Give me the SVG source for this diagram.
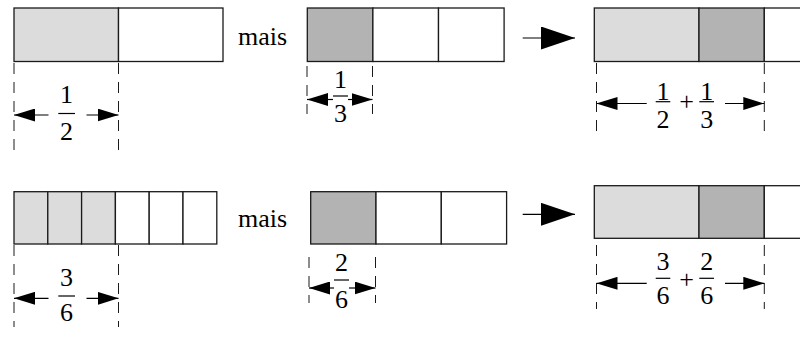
<svg xmlns="http://www.w3.org/2000/svg" width="800" height="338" viewBox="0 0 800 338" font-family="Liberation Serif, Times New Roman, serif" font-size="26">
  <style>
    .cell { stroke: #1a1a1a; stroke-width: 1.3; }
    .light { fill: #dcdcdc; }
    .dark { fill: #b3b3b3; }
    .empty { fill: #ffffff; }
    .guide { stroke: #1a1a1a; stroke-width: 1; stroke-dasharray: 11 8; fill: none; }
    .dim { stroke: #000; stroke-width: 1.2; fill: none; }
    .bar { stroke: #000; stroke-width: 1.2; }
    .head { fill: #000; }
    .t { font-family: "Liberation Serif", "Times New Roman", serif; font-size: 26px; fill: #000; }
    .num { text-anchor: middle; }
  </style>
  <defs>
    <marker id="tip" markerUnits="userSpaceOnUse" viewBox="0 0 21 13" refX="21" refY="6.5" markerWidth="21" markerHeight="13" orient="auto-start-reverse">
      <path class="head" d="M0,0 L21,6.5 L0,13 Z"/>
    </marker>
    <marker id="bigtip" markerUnits="userSpaceOnUse" viewBox="0 0 34 23" refX="34" refY="11.5" markerWidth="34" markerHeight="23" orient="auto">
      <path class="head" d="M0,0 L34,11.5 L0,23 Z"/>
    </marker>
  </defs>

  <!-- top row: 1/2 -->
  <g id="half">
    <rect class="cell light" x="14" y="8" width="104.5" height="53.5"/>
    <rect class="cell empty" x="118.5" y="8" width="104.5" height="53.5"/>
  </g>
  <text class="t" x="238" y="45">mais</text>
  <!-- top row: 1/3 -->
  <g id="third">
    <rect class="cell dark" x="307.3" y="8" width="65.6" height="53.5"/>
    <rect class="cell empty" x="372.9" y="8" width="65.6" height="53.5"/>
    <rect class="cell empty" x="438.5" y="8" width="65.6" height="53.5"/>
  </g>
  <!-- top row: sum -->
  <g id="sum-top">
    <rect class="cell light" x="594.3" y="8" width="104.7" height="53.5"/>
    <rect class="cell dark" x="699" y="8" width="65.3" height="53.5"/>
    <rect class="cell empty" x="764.3" y="8" width="40" height="53.5"/>
  </g>

  <!-- bottom row: 3/6 -->
  <g id="sixths">
    <rect class="cell light" x="14" y="191.7" width="33.8" height="52.3"/>
    <rect class="cell light" x="47.8" y="191.7" width="33.8" height="52.3"/>
    <rect class="cell light" x="81.6" y="191.7" width="33.8" height="52.3"/>
    <rect class="cell empty" x="115.4" y="191.7" width="33.8" height="52.3"/>
    <rect class="cell empty" x="149.2" y="191.7" width="33.8" height="52.3"/>
    <rect class="cell empty" x="183" y="191.7" width="33.8" height="52.3"/>
  </g>
  <text class="t" x="238" y="226.7">mais</text>
  <!-- bottom row: 2/6 -->
  <g id="two-sixths">
    <rect class="cell dark" x="310.7" y="191.7" width="65.3" height="52.3"/>
    <rect class="cell empty" x="376" y="191.7" width="65.3" height="52.3"/>
    <rect class="cell empty" x="441.3" y="191.7" width="65.3" height="52.3"/>
  </g>
  <!-- bottom row: sum -->
  <g id="sum-bottom">
    <rect class="cell light" x="594.3" y="185.7" width="104.7" height="52.6"/>
    <rect class="cell dark" x="699" y="185.7" width="65.3" height="52.6"/>
    <rect class="cell empty" x="764.3" y="185.7" width="40" height="52.6"/>
  </g>

  <!-- connectors: extent guides, dimension arrows, result arrows -->
  <g id="connectors">
    <!-- guides -->
    <line class="guide" x1="14" y1="63" x2="14" y2="156"/>
    <line class="guide" x1="118.5" y1="63" x2="118.5" y2="156"/>
    <line class="guide" x1="307" y1="66" x2="307" y2="114"/>
    <line class="guide" x1="372.5" y1="66" x2="372.5" y2="114"/>
    <line class="guide" x1="596.5" y1="63" x2="596.5" y2="131"/>
    <line class="guide" x1="764.3" y1="63" x2="764.3" y2="131"/>

    <line class="guide" x1="14" y1="245" x2="14" y2="327"/>
    <line class="guide" x1="118.5" y1="245" x2="118.5" y2="327"/>
    <line class="guide" x1="309" y1="257" x2="309" y2="303"/>
    <line class="guide" x1="375.5" y1="257" x2="375.5" y2="303"/>
    <line class="guide" x1="596.5" y1="245" x2="596.5" y2="309"/>
    <line class="guide" x1="764.3" y1="245" x2="764.3" y2="309"/>

    <!-- dimension arrows -->
    <line class="dim" x1="48.5" y1="115" x2="14" y2="115" marker-end="url(#tip)"/>
    <line class="dim" x1="86.5" y1="115" x2="118.5" y2="115" marker-end="url(#tip)"/>
    <line class="dim" x1="333" y1="99.5" x2="307" y2="99.5" marker-end="url(#tip)"/>
    <line class="dim" x1="348" y1="99.5" x2="372.5" y2="99.5" marker-end="url(#tip)"/>
    <line class="dim" x1="646.7" y1="103.5" x2="596.5" y2="103.5" marker-end="url(#tip)"/>
    <line class="dim" x1="725" y1="103.5" x2="764.3" y2="103.5" marker-end="url(#tip)"/>

    <line class="dim" x1="48.5" y1="298.3" x2="14" y2="298.3" marker-end="url(#tip)"/>
    <line class="dim" x1="86.5" y1="298.3" x2="118.5" y2="298.3" marker-end="url(#tip)"/>
    <line class="dim" x1="334" y1="288" x2="309" y2="288" marker-end="url(#tip)"/>
    <line class="dim" x1="349" y1="288" x2="375.5" y2="288" marker-end="url(#tip)"/>
    <line class="dim" x1="646.7" y1="283.3" x2="596.5" y2="283.3" marker-end="url(#tip)"/>
    <line class="dim" x1="725" y1="283.3" x2="764.3" y2="283.3" marker-end="url(#tip)"/>

    <!-- result arrows -->
    <line class="dim" x1="522.7" y1="38" x2="575" y2="38" marker-end="url(#bigtip)"/>
    <line class="dim" x1="522.7" y1="214.3" x2="575" y2="214.3" marker-end="url(#bigtip)"/>
  </g>

  <!-- fraction labels -->
  <g id="label-half">
    <text class="t num" x="66.5" y="103.3">1</text>
    <line class="bar" x1="58.3" y1="113.5" x2="75" y2="113.5"/>
    <text class="t num" x="66.5" y="140">2</text>
  </g>
  <g id="label-third">
    <text class="t num" x="340.5" y="88.3">1</text>
    <line class="bar" x1="333" y1="96" x2="348" y2="96"/>
    <text class="t num" x="340.5" y="121.5">3</text>
  </g>
  <g id="label-sum-top">
    <text class="t num" x="663" y="99.5">1</text>
    <line class="bar" x1="655.7" y1="101.7" x2="670.3" y2="101.7"/>
    <text class="t num" x="663" y="128">2</text>
    <text class="t num" x="686.7" y="110">+</text>
    <text class="t num" x="706.7" y="99.5">1</text>
    <line class="bar" x1="699.3" y1="101.7" x2="714" y2="101.7"/>
    <text class="t num" x="706.7" y="128">3</text>
  </g>
  <g id="label-three-sixths">
    <text class="t num" x="66.5" y="285.5">3</text>
    <line class="bar" x1="58.3" y1="296" x2="75" y2="296"/>
    <text class="t num" x="66.5" y="320.5">6</text>
  </g>
  <g id="label-two-sixths">
    <text class="t num" x="341.5" y="271">2</text>
    <line class="bar" x1="334" y1="280" x2="349" y2="280"/>
    <text class="t num" x="341.5" y="308">6</text>
  </g>
  <g id="label-sum-bottom">
    <text class="t num" x="663" y="269.5">3</text>
    <line class="bar" x1="655.7" y1="278.3" x2="670.3" y2="278.3"/>
    <text class="t num" x="663" y="303.5">6</text>
    <text class="t num" x="686.7" y="287.5">+</text>
    <text class="t num" x="706.7" y="269.5">2</text>
    <line class="bar" x1="699.3" y1="278.3" x2="714" y2="278.3"/>
    <text class="t num" x="706.7" y="303.5">6</text>
  </g>
</svg>
